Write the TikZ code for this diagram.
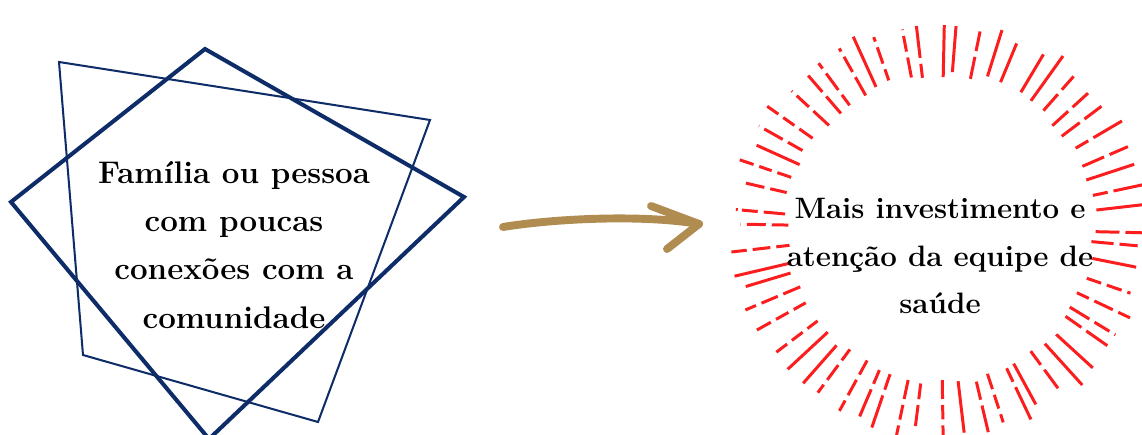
\documentclass[tikz,border=0pt]{standalone}
\usepackage{tikz}
\usetikzlibrary{positioning}

\definecolor{navyline}{RGB}{14,44,104}
\definecolor{goldarrow}{RGB}{176,140,80}
\definecolor{burstred}{RGB}{252,30,30}

\tikzset{
  thickframe/.style={draw=navyline, line width=2.3pt, line join=miter},
  thinframe/.style={draw=navyline, line width=1.15pt, line join=miter},
  ray/.style={draw=burstred, line width=1.7pt},
  arrowline/.style={draw=goldarrow, line width=4.5pt, line cap=round, line join=round},
  boxtext/.style={align=center, font=\fontsize{16.8}{26.8}\selectfont\bfseries, inner sep=0pt}
}

\begin{document}
\begin{tikzpicture}[x=0.02cm, y=-0.02cm]
\clip (0,0) rectangle (1142,435);
\fill[white] (0,0) rectangle (1142,435);

% two overlapping frames
\draw[thinframe] (59,62) -- (430,120) -- (318,422) -- (83,355) -- cycle;
\draw[thickframe] (205,49) -- (464,197) -- (209,439) -- (11,202) -- cycle;
\node[boxtext, font=\fontsize{17.8}{27.4}\selectfont\bfseries] (famtext) at (234,245) {Família ou pessoa\\com poucas\\conexões com a\\comunidade};

% arrow
\coordinate (arrowtail) at (503,227);
\coordinate (arrowtip) at (699,224);
\coordinate (headup) at (651,206);
\coordinate (headdown) at (667,249);
\draw[arrowline] (arrowtail) .. controls (552,219) and (640,214) .. (arrowtip);
\draw[arrowline] (headup) -- (arrowtip) -- (headdown);

% burst
\begin{scope}[shift={(940,228)}]
\pgfmathsetseed{4217}
\foreach \i in {0,...,59}{
  \pgfmathsetmacro\ang{\i*6+1.5*rand}
  \pgfmathsetmacro\rin{151+8*rnd}
  \pgfmathsetmacro\rout{199+13*rnd}
  \pgfmathsetmacro\cuta{\rin+10+14*rnd}
  \pgfmathsetmacro\cutaa{\cuta+6}
  \pgfmathsetmacro\cutb{\cutaa+12+10*rnd}
  \pgfmathsetmacro\cutbb{\cutb+6}
  \pgfmathrandominteger\gaps{0}{2}
  \ifcase\gaps
    \draw[ray] (\ang:\rin) -- (\ang:\rout);
  \or
    \draw[ray] (\ang:\rin) -- (\ang:\cuta) (\ang:\cutaa) -- (\ang:\rout);
  \or
    \draw[ray] (\ang:\rin) -- (\ang:\cuta) (\ang:\cutaa) -- (\ang:\cutb) (\ang:\cutbb) -- (\ang:\rout);
  \fi
}
\end{scope}
\node[boxtext] (saudetext) at (940,256) {Mais investimento e\\atenção da equipe de\\saúde};
\end{tikzpicture}
\end{document}
